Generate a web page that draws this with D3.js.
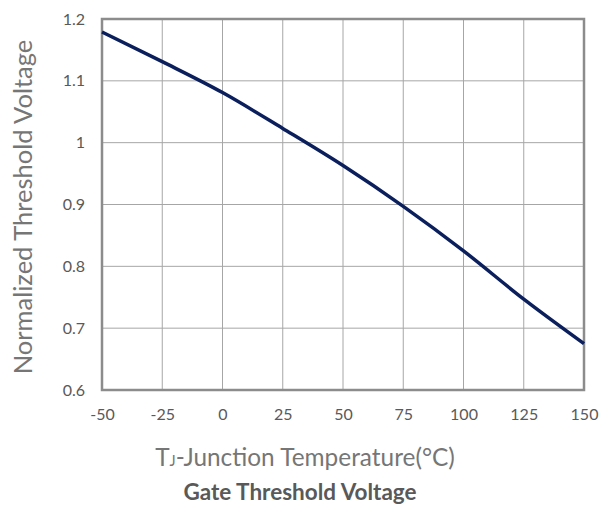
<!DOCTYPE html>
<html><head><meta charset="utf-8">
<script src="https://cdn.jsdelivr.net/npm/d3@7"></script>
<style>body{margin:0;background:#fff}</style>
</head><body><svg id="c" width="600" height="510"></svg>
<script>
const temps = [-50,-25,0,25,50,75,100,125,150];
const volts = [1.179,1.131,1.081,1.023,0.963,0.897,0.825,0.747,0.675];
const xTicks = [-50,-25,0,25,50,75,100,125,150];
const yTicks = [0.6,0.7,0.8,0.9,1,1.1,1.2];
const yTitle = "Normalized Threshold Voltage";
const title = "Gate Threshold Voltage";

const svg = d3.select("#c");
const font = "Lato, 'Open Sans', sans-serif";
const L=102,R=584,T=19,B=390;
const x = d3.scaleLinear().domain([-50,150]).range([L,R]);
const y = d3.scaleLinear().domain([0.6,1.2]).range([B,T]);

// grid
svg.append("g").selectAll("line").data(xTicks).join("line")
  .attr("x1",d=>x(d)).attr("x2",d=>x(d)).attr("y1",T).attr("y2",B)
  .attr("stroke","#a6a6a6").attr("stroke-width",1);
svg.append("g").selectAll("line").data(yTicks).join("line")
  .attr("y1",d=>y(d)).attr("y2",d=>y(d)).attr("x1",L).attr("x2",R)
  .attr("stroke","#a6a6a6").attr("stroke-width",1);

// axes labels
const xa = svg.append("g").attr("transform",`translate(0,${B})`)
  .call(d3.axisBottom(x).tickValues(xTicks).tickSize(0).tickPadding(19).tickFormat(d=>String(d)));
xa.select(".domain").remove();
xa.selectAll("text").attr("font-family",font).attr("font-size",16).attr("fill","#595959");
const ya = svg.append("g").attr("transform",`translate(${L},0)`)
  .call(d3.axisLeft(y).tickValues(yTicks).tickSize(0).tickPadding(17).tickFormat(d=>String(d)));
ya.select(".domain").remove();
ya.selectAll("text").attr("font-family",font).attr("font-size",16).attr("fill","#595959");

// frame
svg.append("rect").attr("x",L).attr("y",T).attr("width",R-L).attr("height",B-T)
  .attr("fill","none").attr("stroke","#8c8c8c").attr("stroke-width",2.5);

// curve
const line = d3.line().x((d,i)=>x(temps[i])).y(d=>y(d)).curve(d3.curveMonotoneX);
svg.append("path").datum(volts).attr("d",line).attr("fill","none")
  .attr("stroke","#0a1f5c").attr("stroke-width",3.5);

// titles
const xt = svg.append("text").attr("x",305).attr("y",466).attr("text-anchor","middle")
  .attr("font-family",font).attr("font-size",24.4).attr("fill","#767676");
xt.append("tspan").text("T");
xt.append("tspan").text("J").attr("font-size",14.5);
xt.append("tspan").text("-Junction Temperature(°C)");
svg.append("text").attr("transform","translate(32,207) rotate(-90)").attr("text-anchor","middle")
  .attr("font-family",font).attr("font-size",25.5).attr("fill","#767676").text(yTitle);
svg.append("text").attr("x",300).attr("y",500).attr("text-anchor","middle")
  .attr("font-family",font).attr("font-size",22.5).attr("font-weight","bold").attr("fill","#595959").text(title);
</script></body></html>
